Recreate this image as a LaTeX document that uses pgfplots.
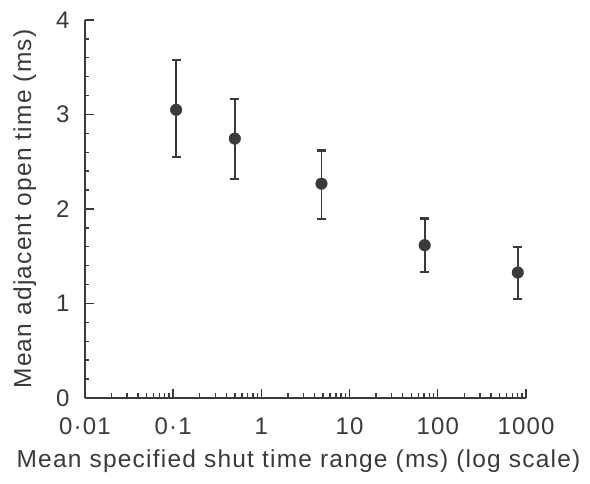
\documentclass[border=0pt]{standalone}
\usepackage{fontspec}
\setmainfont{Liberation Sans}[LetterSpace=5]
\usepackage{pgfplots}
\pgfplotsset{compat=1.18}
\definecolor{Ink}{RGB}{58,58,58}

\begin{document}
\begin{tikzpicture}
\begin{axis}[
    scale only axis,
    width=441pt,
    height=378pt,
    xmode=log,
    xmin=0.01, xmax=1000,
    ymin=0, ymax=4,
    axis lines=left,
    axis line style={-, line width=1.6pt, Ink},
    every tick/.style={line width=1.4pt, Ink},
    xtick align=inside,
    ytick align=inside,
    major tick length=9pt,
    minor tick length=4.5pt,
    xtick={0.01,0.1,1,10,100,1000},
    xticklabels={0·01,0·1,1,10,100,1000},
    ytick={0,1,2,3,4},
    minor ytick={0.2,0.4,0.6,0.8,1.2,1.4,1.6,1.8,2.2,2.4,2.6,2.8,3.2,3.4,3.6,3.8},
    /pgf/number format/assume math mode=true,
    tick label style={font=\fontsize{24}{28}\selectfont, text=Ink},
    xticklabel style={yshift=-16pt},
    yticklabel style={xshift=-12pt},
    label style={font=\fontsize{24.5}{28}\selectfont, text=Ink},
    xlabel={Mean specified shut time range (ms) (log scale)},
    ylabel={Mean adjacent open time (ms)},
    xlabel style={yshift=-8pt, xshift=-7pt},
    ylabel style={yshift=13pt},
    clip=false,
]
\addplot[
    only marks,
    mark=*,
    mark size=5.8pt,
    color=Ink,
    error bars/.cd,
    y dir=both, y explicit,
    error bar style={line width=1.9pt, Ink},
    error mark options={rotate=90, mark size=4.5pt, line width=2.2pt, Ink},
] coordinates {
    (0.108, 3.05)  += (0,0.526) -= (0,0.50)
    (0.5,   2.745) += (0,0.42)  -= (0,0.43)
    (4.8,   2.268) += (0,0.352) -= (0,0.371)
    (71,    1.617) += (0,0.283) -= (0,0.286)
    (807,   1.328) += (0,0.268) -= (0,0.279)
};
\end{axis}
\pgfresetboundingbox
\useasboundingbox (current axis.south west) ++(-85pt,-86pt) rectangle ++(590pt,484pt);
\end{tikzpicture}
\end{document}
